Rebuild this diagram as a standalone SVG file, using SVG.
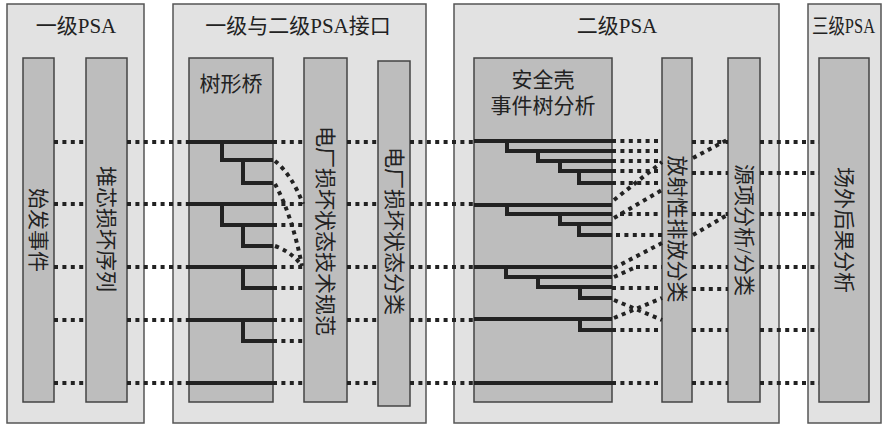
<svg xmlns="http://www.w3.org/2000/svg" width="883" height="426" viewBox="0 0 883 426">
<style>
.panel{fill:#e2e2e2;stroke:#555;stroke-width:1.5}
.bar{fill:#bdbdbd;stroke:#444;stroke-width:1.5}
.t{font-family:"Liberation Serif","Noto Sans CJK SC",serif;font-size:21px;fill:#222}
.v{font-family:"Liberation Serif","Noto Sans CJK SC",serif;font-size:21px;fill:#222;text-anchor:middle;dominant-baseline:central}
.solid{fill:none;stroke:#222;stroke-width:4}
.dot{fill:none;stroke:#222;stroke-width:4;stroke-dasharray:4 4.4}
</style>
<rect x="0" y="0" width="883" height="426" fill="#fff"/>
<g id="panel1"><rect class="panel" x="7" y="4" width="137" height="419"/><text class="t" x="76" y="33" text-anchor="middle">一级PSA</text></g>
<g id="panel2"><rect class="panel" x="173" y="4" width="253" height="419"/><text class="t" x="298" y="33" text-anchor="middle">一级与二级PSA接口</text></g>
<g id="panel3"><rect class="panel" x="454" y="4" width="325" height="419"/><text class="t" x="617" y="33" text-anchor="middle">二级PSA</text></g>
<g id="panel4"><rect class="panel" x="808" y="4" width="73" height="419"/><text class="t" x="812" y="33" font-size="16" textLength="63" lengthAdjust="spacingAndGlyphs">三级PSA</text></g>
<g id="initiating"><rect class="bar" x="23" y="58" width="31" height="344"/><text class="v" transform="translate(38 230) rotate(90)">始发事件</text></g>
<g id="coredamage"><rect class="bar" x="86" y="58" width="41" height="344"/><text class="v" transform="translate(106 229) rotate(90)">堆芯损坏序列</text></g>
<g id="bridge"><rect class="bar" x="189" y="58" width="84" height="344"/><text class="t" x="231" y="91" text-anchor="middle">树形桥</text></g>
<g id="pdsspec"><rect class="bar" x="304" y="58" width="43" height="344"/><text class="v" transform="translate(325 231) rotate(90)">电厂损坏状态技术规范</text></g>
<g id="pdsclass"><rect class="bar" x="378" y="61" width="32" height="345"/><text class="v" transform="translate(394 231) rotate(90)">电厂损坏状态分类</text></g>
<g id="cet"><rect class="bar" x="474" y="58" width="138" height="344"/><text class="t" x="543" y="87" text-anchor="middle">安全壳</text><text class="t" x="543" y="113" text-anchor="middle">事件树分析</text></g>
<g id="release"><rect class="bar" x="662" y="58" width="30" height="344"/><text class="v" transform="translate(677 229) rotate(90)">放射性排放分类</text></g>
<g id="source"><rect class="bar" x="728" y="58" width="32" height="344"/><text class="v" transform="translate(744 230) rotate(90)">源项分析/分类</text></g>
<g id="offsite"><rect class="bar" x="819" y="58" width="50" height="344"/><text class="v" transform="translate(844 230) rotate(90)">场外后果分析</text></g>
<g id="connectors">
<path class="dot" d="M54 142H86M127 142H189M347 142H378M410 142H474M54 204H86M127 204H189M347 204H378M410 204H474M54 267H86M127 267H189M347 267H378M410 267H474M54 320H86M127 320H189M347 320H378M410 320H474M54 383H86M127 383H189M347 383H378M410 383H474"/>
<path class="solid" d="M189 142H273M222 142V160H273M243 160V183H273M189 204H273M222 204V225H273M243 225V246H273M189 267H273M243 267V288H273M189 320H273M243 320V341H273M189 383H273"/>
<path class="dot" d="M273 142H304M273 204H304M273 225H304M273 267H304M273 288H304M273 320H304M273 341H304M273 383H304"/>
<path class="dot" d="M275 161Q292 175 303 204M275 184Q292 215 302 266M275 246Q292 252 302 266"/>
<path class="solid" d="M474 141H612M507 141V151H612M538 151V161H612M560 161V171H612M579 171V183H612M474 205H612M507 205V214H612M560 214V224H612M579 224V235H612M474 267H612M506 267V277H612M538 277V287H612M580 287V298H612M474 319H612M580 319V330H612M474 383H612"/>
<path class="dot" d="M612 141H662M612 151H662M612 161H662M612 171H662M612 183H662M620 214H662M616 235H662M636 267H662M612 288H662M612 330H662M612 383H662"/>
<path class="dot" d="M614 200L662 162M614 218L662 190M614 268L662 243M614 277L636 267M614 300L662 320M614 318L662 298"/>
<path class="dot" d="M692 142H728M692 173H728M692 214H728M692 267H728M692 289H728M692 330H728M692 383H728M693 158L727 140M693 235L727 215"/>
<path class="dot" d="M760 142H819M760 173H819M760 214H819M760 267H819M760 330H819M760 383H819"/>
</g>
</svg>
